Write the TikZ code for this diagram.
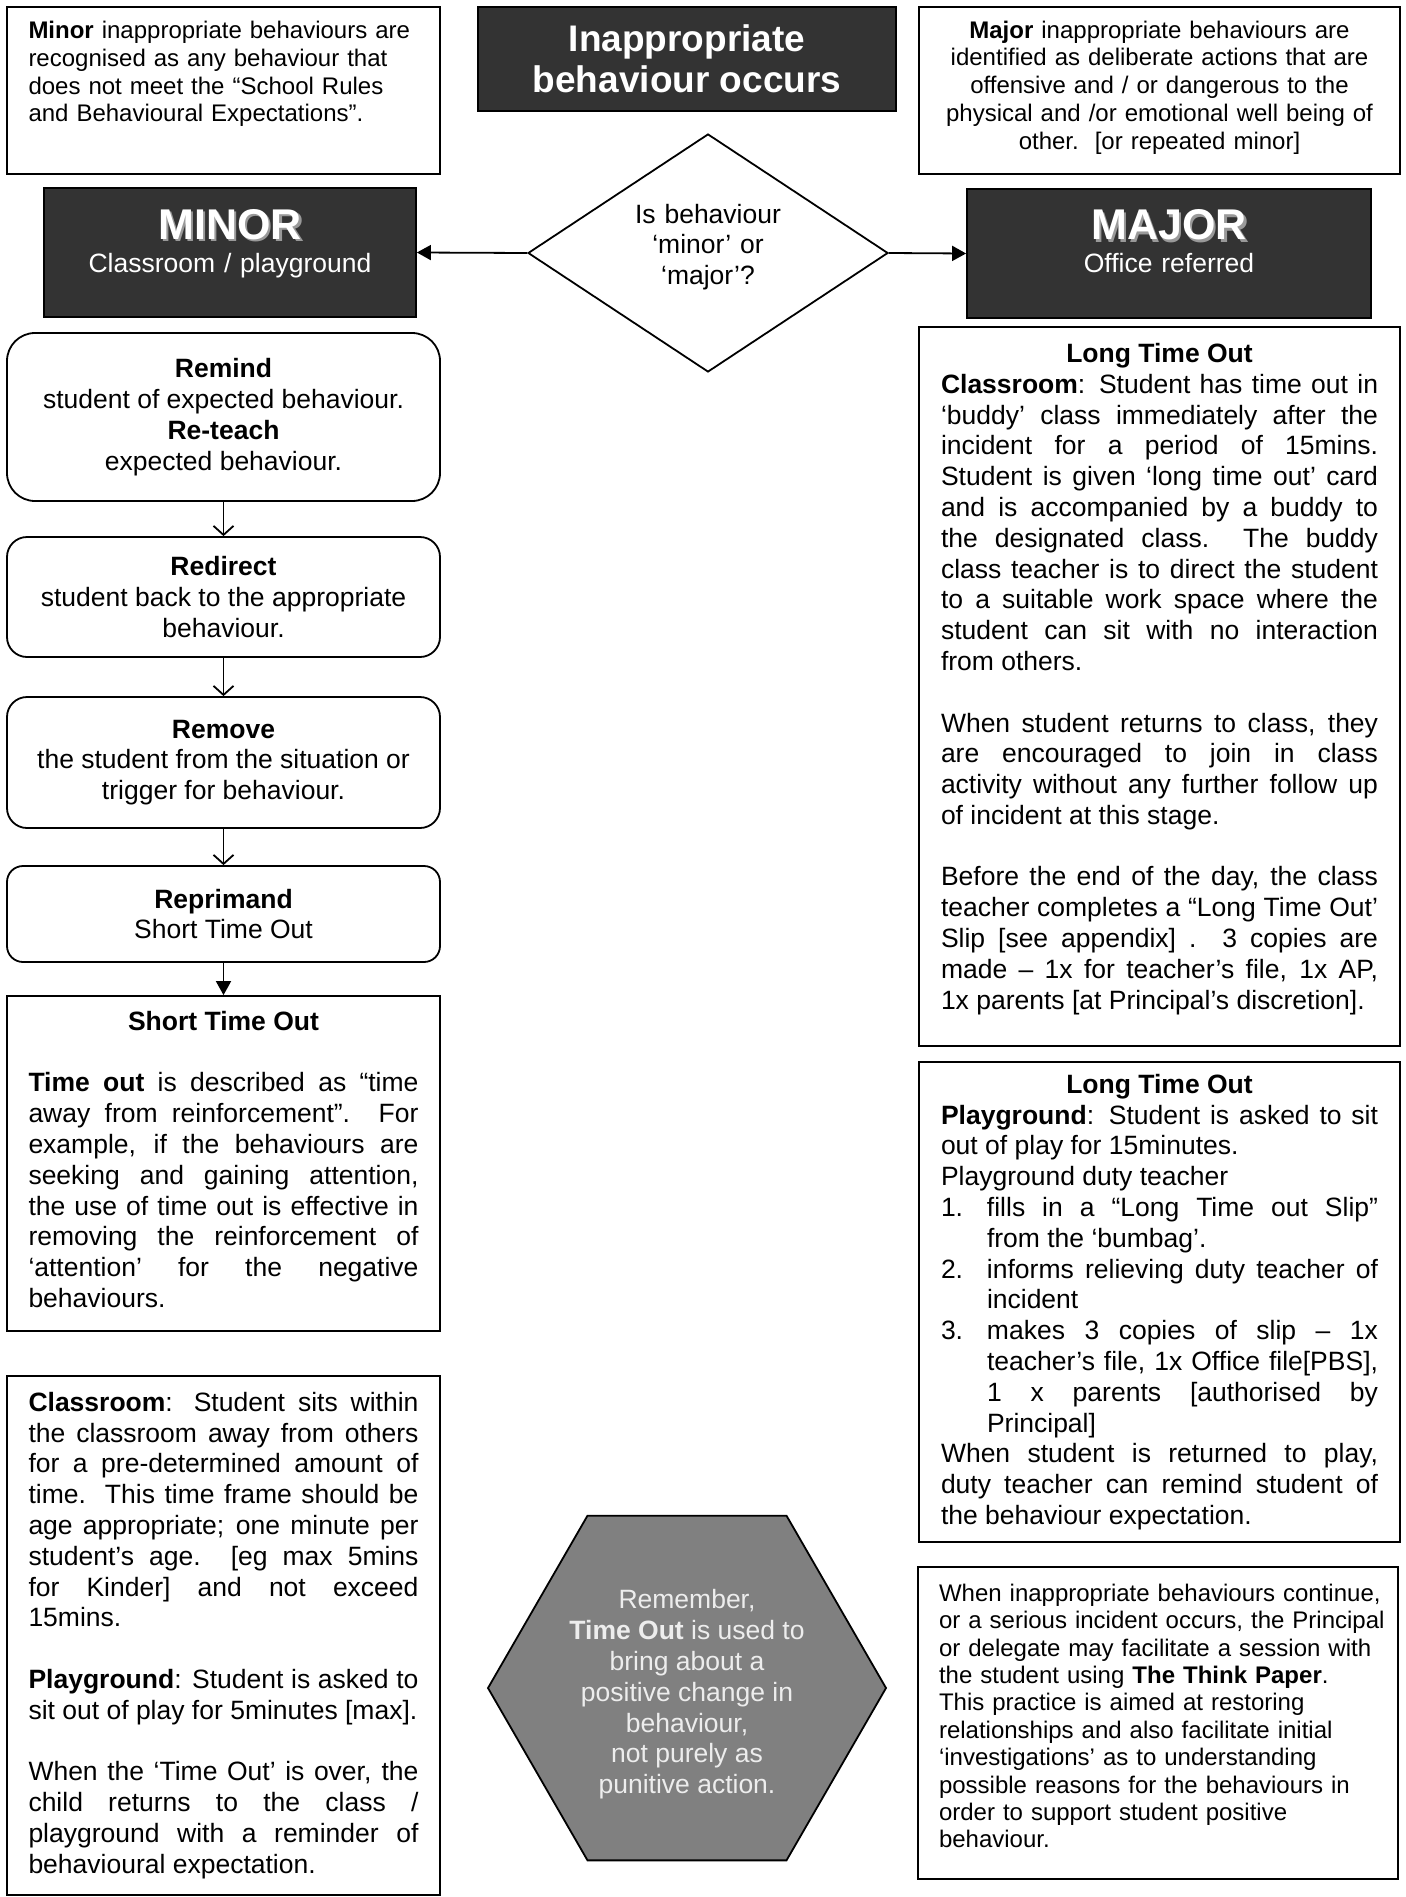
\documentclass[tikz,border=0pt]{standalone}
\usepackage{fontspec}
\setmainfont{Liberation Sans}
\usetikzlibrary{arrows.meta,shapes.geometric}
\definecolor{darkfill}{HTML}{333333}
\definecolor{hexfill}{HTML}{808080}
\setlength{\parindent}{0pt}
\hyphenpenalty=10000
\exhyphenpenalty=10000
\tolerance=9000
\newcommand{\shadowed}[1]{\makebox[0pt][l]{\hspace{2.5pt}\raisebox{-2.5pt}{\textcolor{black!40}{#1}}}#1}
\newcommand{\padbottom}[1]{\par\vspace{#1}\hrule height 0pt}

\begin{document}
\begin{tikzpicture}[x=1pt, y=-1pt,
  txtbox/.style={draw=black, line width=1.8pt, inner sep=0pt},
  darkbox/.style={draw=black, line width=1.8pt, fill=darkfill, text=white, inner sep=0pt},
  stepbox/.style={draw=black, line width=1.8pt, rounded corners=20pt, minimum width=433pt, inner sep=0pt, align=center},
  bodytext/.style={font=\fontsize{26.5}{30.8}\selectfont},
  smalltext/.style={font=\fontsize{24}{27.8}\selectfont},
  flow/.style={line width=1.8pt, -{Straight Barb[length=9pt,width=20pt]}},
  bigflow/.style={line width=1.8pt, -{Triangle[length=14pt,width=15pt]}}]
\useasboundingbox (0,0) rectangle (1405,1897);

\node[txtbox, smalltext, minimum width=433pt, minimum height=167pt, text width=390pt, align=left] (minordesc) at (223.5,90.5) {\textbf{Minor} inappropriate behaviours are\\recognised as any behaviour that\\does not meet the “School Rules\\and Behavioural Expectations”.\padbottom{33pt}};
\node[darkbox, align=center, minimum width=418pt, minimum height=104pt, font=\fontsize{37}{41}\selectfont\bfseries] (title) at (687,59) {Inappropriate\\behaviour occurs};
\node[txtbox, smalltext, minimum width=481pt, minimum height=167pt, text width=450pt, align=center] (majordesc) at (1159.5,90.5) {\textbf{Major} inappropriate behaviours are\\identified as deliberate actions that are\\offensive and / or dangerous to the\\physical and /or emotional well being of\\other.\ \ [or repeated minor]\padbottom{6pt}};

\node[darkbox, minimum width=372pt, minimum height=129pt, text width=330pt, align=center, font=\fontsize{26.5}{33}\selectfont] (minor) at (230,252.5) {{\fontsize{43}{46}\selectfont\bfseries\shadowed{MINOR}\par}Classroom / playground\padbottom{18pt}};
\node[darkbox, minimum width=404pt, minimum height=129pt, text width=360pt, align=center, font=\fontsize{26.5}{33}\selectfont] (major) at (1169,253.5) {{\fontsize{43}{46}\selectfont\bfseries\shadowed{MAJOR}\par}Office referred\padbottom{24pt}};
\node[draw, diamond, aspect=1.5, line width=1.8pt, minimum width=360pt, minimum height=238pt, inner sep=0pt, text width=150pt, align=center, bodytext] (q) at (708,253) {Is behaviour\\‘minor’ or\\‘major’?\padbottom{12pt}};
\draw[bigflow] (q.west) -- (minor.east);
\draw[bigflow] (q.east) -- (major.west);

\node[stepbox, bodytext, minimum height=168pt, rounded corners=28pt] (remind) at (223.5,417) {\textbf{Remind}\\student of expected behaviour.\\\textbf{Re-teach}\\expected behaviour.};
\node[stepbox, bodytext, minimum height=120pt] (redirect) at (223.5,597) {\textbf{Redirect}\\student back to the appropriate\\behaviour.};
\node[stepbox, bodytext, minimum height=131pt] (remove) at (223.5,762.5) {\textbf{Remove}\\the student from the situation or\\trigger for behaviour.};
\node[stepbox, bodytext, minimum height=96pt, rounded corners=16pt] (reprimand) at (223.5,914) {\textbf{Reprimand}\\Short Time Out};
\node[txtbox, bodytext, minimum width=433pt, minimum height=335pt, text width=390pt, align=justify] (sto) at (223.5,1163.5) {{\centering\textbf{Short Time Out}\par}
\vspace{30.8pt}
\textbf{Time out} is described as “time\linebreak
away from reinforcement”.\ \ For\linebreak
example, if the behaviours are\linebreak
seeking and gaining attention,\linebreak
the use of time out is effective in\linebreak
removing the reinforcement of\linebreak
‘attention’ for the negative\linebreak
behaviours.\padbottom{8pt}};
\draw[flow] (remind) -- (redirect);
\draw[flow] (redirect) -- (remove);
\draw[flow] (remove) -- (reprimand);
\draw[bigflow] (reprimand) -- (sto);

\node[txtbox, bodytext, minimum width=433pt, minimum height=519pt, text width=390pt, align=justify] (lefttext) at (223.5,1635.5) {\textbf{Classroom}: Student sits within\linebreak
the classroom away from others\linebreak
for a pre-determined amount of\linebreak
time.\ \ This time frame should be\linebreak
age appropriate; one minute per\linebreak
student’s age.\ \ [eg max 5mins\linebreak
for Kinder] and not exceed\linebreak
15mins.\par
\vspace{30.8pt}
\textbf{Playground}: Student is asked to\linebreak
sit out of play for 5minutes [max].\par
\vspace{30.8pt}
When the ‘Time Out’ is over, the\linebreak
child returns to the class /\linebreak
playground with a reminder of\linebreak
behavioural expectation.};

\node[txtbox, bodytext, minimum width=481pt, minimum height=719pt, text width=437pt, align=justify] (longclass) at (1159.5,686.5) {{\centering\textbf{Long Time Out}\par}
\textbf{Classroom}: Student has time out in\linebreak
‘buddy’ class immediately after the\linebreak
incident for a period of 15mins.\linebreak
Student is given ‘long time out’ card\linebreak
and is accompanied by a buddy to\linebreak
the designated class.\ \ The buddy\linebreak
class teacher is to direct the student\linebreak
to a suitable work space where the\linebreak
student can sit with no interaction\linebreak
from others.\par
\vspace{30.7pt}
When student returns to class, they\linebreak
are encouraged to join in class\linebreak
activity without any further follow up\linebreak
of incident at this stage.\par
\vspace{30.7pt}
Before the end of the day, the class\linebreak
teacher completes a “Long Time Out’\linebreak
Slip [see appendix] .\ \ 3 copies are\linebreak
made – 1x for teacher’s file, 1x AP,\linebreak
1x parents [at Principal’s discretion].\padbottom{15pt}};

\node[txtbox, bodytext, minimum width=481pt, minimum height=480pt, text width=437pt, align=justify] (longplay) at (1159.5,1302) {{\centering\textbf{Long Time Out}\par}
\textbf{Playground}: Student is asked to sit\linebreak
out of play for 15minutes.\par
Playground duty teacher\par
\hangindent=46pt\hangafter=1\makebox[46pt][l]{1.}fills in a “Long Time out Slip”\linebreak
from the ‘bumbag’.\par
\hangindent=46pt\hangafter=1\makebox[46pt][l]{2.}informs relieving duty teacher of\linebreak
incident\par
\hangindent=46pt\hangafter=1\makebox[46pt][l]{3.}makes 3 copies of slip – 1x\linebreak
teacher’s file, 1x Office file[PBS],\linebreak
1 x parents [authorised by\linebreak
Principal]\par
When student is returned to play,\linebreak
duty teacher can remind student of\linebreak
the behaviour expectation.};

\node[txtbox, minimum width=480pt, minimum height=312pt, text width=462pt, align=left, font=\fontsize{24}{27.4}\selectfont] (think) at (1158,1723) {\leftskip=12pt When inappropriate behaviours continue,\\
or a serious incident occurs, the Principal\\
or delegate may facilitate a session with\\
the student using \textbf{The Think Paper}.\\
This practice is aimed at restoring\\
relationships and also facilitate initial\\
‘investigations’ as to understanding\\
possible reasons for the behaviours in\\
order to support student positive\\
behaviour.\padbottom{14pt}};

\node[draw, regular polygon, regular polygon sides=6, minimum size=398pt, line width=1.8pt, fill=hexfill, text=white!93!black, inner sep=0pt, align=center, bodytext] (hex) at (687,1688) {\rule{0pt}{32pt}Remember,\\\textbf{Time Out} is used to\\bring about a\\positive change in\\behaviour,\\not purely as\\punitive action.};
\end{tikzpicture}
\end{document}
